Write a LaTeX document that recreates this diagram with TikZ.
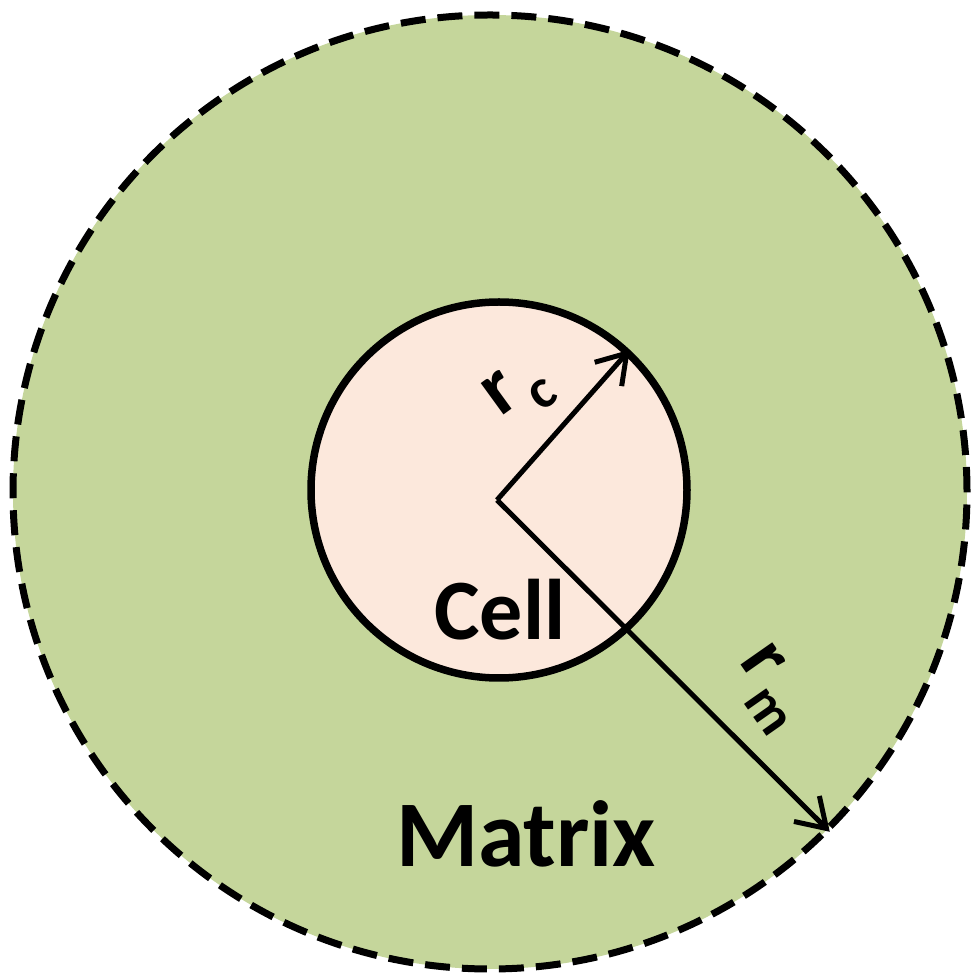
\documentclass[tikz,border=0pt]{standalone}
\usepackage{fontspec}
\setmainfont{Carlito}
\usetikzlibrary{arrows.meta}
\definecolor{matrixgreen}{RGB}{197,214,155}
\definecolor{cellpink}{RGB}{252,232,220}
\tikzset{
  matrixcircle/.style={circle, fill=matrixgreen, draw=black, line width=7pt, dash pattern=on 25pt off 12pt, minimum size=954pt, inner sep=0pt},
  cellcircle/.style={circle, fill=cellpink, draw=black, line width=7.5pt, minimum size=376pt, inner sep=0pt},
  radius arrow/.style={line width=5pt, -{Straight Barb[length=28pt,width=36pt,line width=5pt]}},
  biglabel/.style={font=\bfseries, text=black, inner sep=0pt},
}
\begin{document}
\begin{tikzpicture}[x=1pt,y=1pt]
\useasboundingbox (0,0) rectangle (974,978);
\node[matrixcircle] (matrix) at (490,486) {};
\node[cellcircle] (cell) at (499,488) {};
\coordinate (o) at (497,478);
\draw[radius arrow] (o) -- (cell.47);
\draw[radius arrow] (o) -- (matrix.-45);
\node[biglabel, font=\bfseries\fontsize{86}{90}\selectfont] (celltext) at (500,368) {Cell};
\node[biglabel, font=\bfseries\fontsize{94}{100}\selectfont] (matrixtext) at (526,144) {Matrix};
\node[biglabel, rotate=36, font=\bfseries\fontsize{80}{84}\selectfont] (rc) at (519,586) {r\kern7pt\raisebox{-20pt}{\fontsize{56}{60}\selectfont c}};
\node[biglabel, rotate=-55, font=\bfseries\fontsize{80}{84}\selectfont] (rm) at (770,289) {r\kern7pt\raisebox{-20pt}{\fontsize{56}{60}\selectfont m}};
\end{tikzpicture}
\end{document}
